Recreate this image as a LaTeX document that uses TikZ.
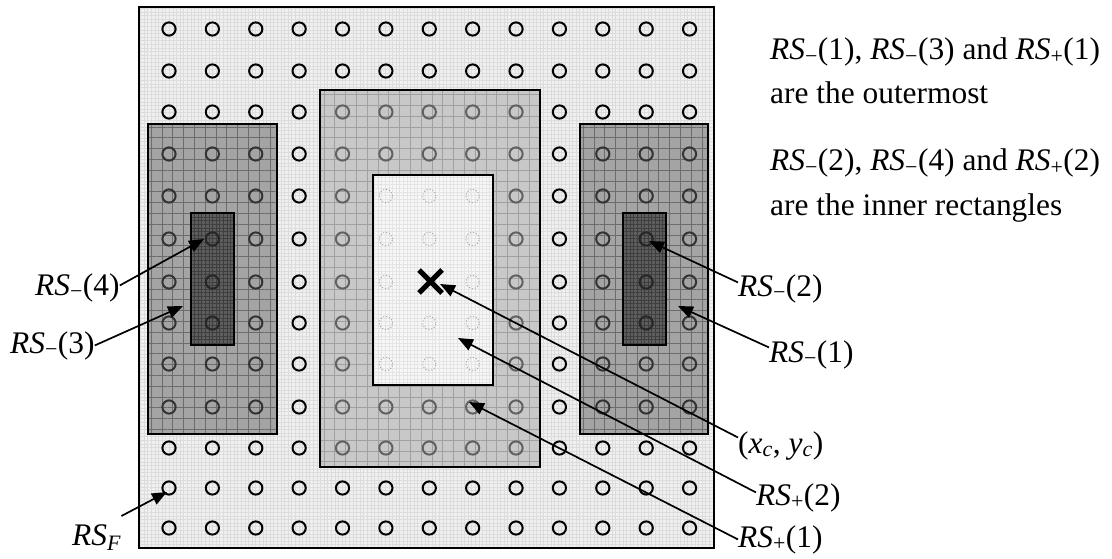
\documentclass[tikz,border=0pt]{standalone}
\usepackage{fontspec}
\setmainfont{Liberation Serif}
\usetikzlibrary{arrows.meta,patterns.meta}
\definecolor{bgfill}{HTML}{F0F0F0}
\definecolor{bghatch}{HTML}{DCDCDC}
\definecolor{midfill}{HTML}{A4A4A4}
\definecolor{midline}{HTML}{6C6C6C}
\definecolor{darkfill}{HTML}{5E5E5E}
\definecolor{darkline}{HTML}{3E3E3E}
\definecolor{lightfill}{HTML}{C8C8C8}
\definecolor{lightline}{HTML}{A0A0A0}
\definecolor{innerfill}{HTML}{F7F7F7}
\definecolor{innerhatch}{HTML}{E4E4E4}
\newcommand\RSm[1]{\textit{RS}\textsubscript{−}(#1)}
\newcommand\RSp[1]{\textit{RS}\textsubscript{+}(#1)}
\tikzset{
  lbl/.style={font=\fontsize{31.4}{37}\selectfont, inner sep=0pt, anchor=base west},
  circ/.style={circle, draw=black, line width=2pt, minimum size=13.2pt, inner sep=0pt},
  circA/.style={circ, draw=black!80},
  circB/.style={circ, draw=black!85},
  circC/.style={circ, draw=black!62},
  circD/.style={circ, draw=black!35, line width=1pt, dotted},
  border/.style={line width=2pt, draw=black},
  arr/.style={-{Triangle[length=15pt,width=12pt]}, line width=1.7pt},
  coarse/.style={pattern={Hatch[angle=0,distance=10.8pt,line width=0.8pt]}},
  fine/.style={pattern={Hatch[angle=0,distance=3.6pt,line width=0.45pt]}},
}
\begin{document}
\begin{tikzpicture}[x=1pt,y=-1pt]
\useasboundingbox (0,0) rectangle (1112,559);
\fill[white] (0,0) rectangle (1112,559);
% background frame
\fill[bgfill] (139,7) rectangle (714,548);
\fill[fine, pattern color=bghatch] (139,7) rectangle (714,548);
% left rectangles
\fill[midfill] (148,124) rectangle (277,434);
\fill[coarse, pattern color=midline] (148,124) rectangle (277,434);
\fill[darkfill] (191,213) rectangle (234,345);
\fill[fine, pattern color=darkline] (191,213) rectangle (234,345);
% right rectangles
\fill[midfill] (580,124) rectangle (708,434);
\fill[coarse, pattern color=midline] (580,124) rectangle (708,434);
\fill[darkfill] (623,213) rectangle (666,345);
\fill[fine, pattern color=darkline] (623,213) rectangle (666,345);
% centre rectangles
\fill[lightfill] (320,90) rectangle (540,467);
\fill[coarse, pattern color=lightline] (320,90) rectangle (540,467);
\fill[innerfill] (373,175) rectangle (493,385);
\fill[fine, pattern color=innerhatch] (373,175) rectangle (493,385);
% circles
\foreach \k in {0,...,12}{%
  \foreach \j/\yy in {0/29,1/71,2/112,3/154,4/196,5/239,6/282,7/323,8/364,9/407,10/448,11/488,12/528}{%
    \pgfmathsetmacro\xx{169+43.38*\k}%
    \def\cst{circ}%
    \ifnum\j>2 \ifnum\j<10 \ifnum\k<3 \def\cst{circA}\fi \ifnum\k>9 \def\cst{circA}\fi \fi\fi
    \ifnum\j>4 \ifnum\j<8 \ifnum\k=1 \def\cst{circB}\fi \ifnum\k=11 \def\cst{circB}\fi \fi\fi
    \ifnum\j>1 \ifnum\j<11 \ifnum\k>3 \ifnum\k<9 \def\cst{circC}\fi\fi\fi\fi
    \ifnum\j>3 \ifnum\j<9 \ifnum\k>4 \ifnum\k<8 \def\cst{circD}\fi\fi\fi\fi
    \node[\cst] (c-\k-\j) at (\xx,\yy) {};
  }}
% borders
\draw[border] (139,7) rectangle (714,548);
\draw[border] (148,124) rectangle (277,434);
\draw[border] (191,213) rectangle (234,345);
\draw[border] (580,124) rectangle (708,434);
\draw[border] (623,213) rectangle (666,345);
\draw[border] (320,90) rectangle (540,467);
\draw[border] (373,175) rectangle (493,385);
% centre mark
\coordinate (xc) at (430.5,281.5);
\draw[line width=5pt] ([xshift=-11.5pt,yshift=11.5pt]xc) -- ([xshift=11.5pt,yshift=-11.5pt]xc)
  ([xshift=-11.5pt,yshift=-11.5pt]xc) -- ([xshift=11.5pt,yshift=11.5pt]xc);
% arrow tips
\coordinate (t4) at (204,239);
\coordinate (t3) at (183,306);
\coordinate (tF) at (167,492);
\coordinate (t2) at (649,241);
\coordinate (t1) at (678,306);
\coordinate (txc) at (440,284);
\coordinate (tp2) at (458,338);
\coordinate (tp1) at (469,402);
% labels
\node[lbl] (l4) at (35,295) {\RSm{4}};
\node[lbl] (l3) at (10,353) {\RSm{3}};
\node[lbl] (lF) at (72,545) {\textit{RS}\textsubscript{\textit{F}}};
\node[lbl] (l2) at (738,296) {\RSm{2}};
\node[lbl] (l1) at (769,362) {\RSm{1}};
\node[lbl] (lxc) at (738,453) {(\textit{x}\textsubscript{\textit{c}}, \textit{y}\textsubscript{\textit{c}})};
\node[lbl] (lp2) at (756,505) {\RSp{2}};
\node[lbl] (lp1) at (738,547) {\RSp{1}};
\node[lbl] (n1) at (770,60) {\RSm{1}, \RSm{3} and \RSp{1}};
\node[lbl] (n2) at (770,104) {are the outermost};
\node[lbl] (n3) at (770,171) {\RSm{2}, \RSm{4} and \RSp{2}};
\node[lbl] (n4) at (770,215) {are the inner rectangles};
% arrows
\draw[arr] ([yshift=2pt]l4.east) -- (t4);
\draw[arr] (l3.east) -- (t3);
\draw[arr] ([yshift=8pt]lF.north east) -- (tF);
\draw[arr] ([yshift=6pt]l2.west) -- (t2);
\draw[arr] ([yshift=7pt]l1.west) -- (t1);
\draw[arr] ([yshift=8pt]lxc.west) -- (txc);
\draw[arr] ([yshift=5pt]lp2.west) -- (tp2);
\draw[arr] ([yshift=0pt]lp1.west) -- (tp1);
\end{tikzpicture}
\end{document}
